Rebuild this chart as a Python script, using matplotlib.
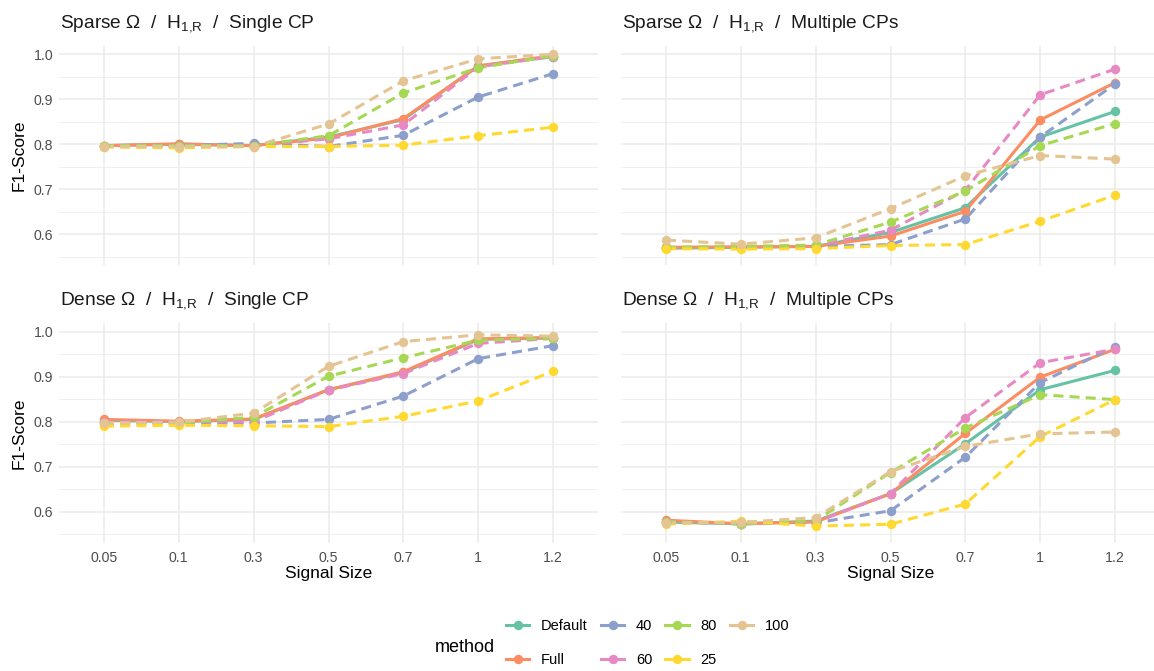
import matplotlib
matplotlib.use("Agg")
import matplotlib.pyplot as plt
from matplotlib.lines import Line2D

plt.rcParams["font.family"] = ["Liberation Sans", "DejaVu Sans"]
plt.rcParams["mathtext.fontset"] = "custom"
plt.rcParams["mathtext.rm"] = "Liberation Sans"
plt.rcParams["mathtext.default"] = "regular"

# x categories (signal size)
signal_sizes = ["0.05", "0.1", "0.3", "0.5", "0.7", "1", "1.2"]
methods = ["Default", "Full", "40", "60", "80", "25", "100"]
colors = ["#66c2a5", "#fc8d62", "#8da0cb", "#e78ac3", "#a6d854", "#ffd92f", "#e5c494"]
solid_methods = ["Default", "Full"]

# F1-scores, one list per method
sparse_single = {
    "Default": [0.797, 0.800, 0.797, 0.816, 0.855, 0.974, 0.995],
    "Full":    [0.797, 0.801, 0.797, 0.814, 0.857, 0.974, 0.997],
    "40":      [0.797, 0.797, 0.802, 0.795, 0.820, 0.905, 0.957],
    "60":      [0.797, 0.797, 0.797, 0.812, 0.843, 0.972, 0.995],
    "80":      [0.797, 0.797, 0.797, 0.819, 0.914, 0.970, 0.997],
    "25":      [0.794, 0.792, 0.795, 0.795, 0.798, 0.819, 0.838],
    "100":     [0.795, 0.795, 0.795, 0.845, 0.941, 0.990, 1.000],
}
sparse_multi = {
    "Default": [0.569, 0.571, 0.573, 0.604, 0.659, 0.816, 0.873],
    "Full":    [0.571, 0.572, 0.573, 0.596, 0.651, 0.854, 0.937],
    "40":      [0.570, 0.571, 0.573, 0.577, 0.634, 0.816, 0.934],
    "60":      [0.570, 0.571, 0.574, 0.609, 0.698, 0.910, 0.967],
    "80":      [0.571, 0.573, 0.576, 0.627, 0.696, 0.797, 0.846],
    "25":      [0.568, 0.567, 0.568, 0.575, 0.577, 0.629, 0.687],
    "100":     [0.587, 0.578, 0.592, 0.657, 0.730, 0.775, 0.767],
}
dense_single = {
    "Default": [0.803, 0.800, 0.805, 0.871, 0.909, 0.983, 0.986],
    "Full":    [0.805, 0.801, 0.806, 0.871, 0.911, 0.984, 0.987],
    "40":      [0.797, 0.797, 0.797, 0.805, 0.857, 0.940, 0.969],
    "60":      [0.800, 0.800, 0.800, 0.870, 0.907, 0.974, 0.985],
    "80":      [0.797, 0.797, 0.810, 0.901, 0.942, 0.981, 0.985],
    "25":      [0.790, 0.792, 0.791, 0.789, 0.812, 0.846, 0.912],
    "100":     [0.797, 0.799, 0.819, 0.923, 0.978, 0.993, 0.990],
}
dense_multi = {
    "Default": [0.577, 0.573, 0.579, 0.640, 0.751, 0.871, 0.914],
    "Full":    [0.581, 0.573, 0.577, 0.640, 0.774, 0.899, 0.961],
    "40":      [0.577, 0.573, 0.575, 0.602, 0.721, 0.887, 0.967],
    "60":      [0.578, 0.573, 0.577, 0.640, 0.809, 0.931, 0.961],
    "80":      [0.578, 0.573, 0.580, 0.687, 0.786, 0.860, 0.849],
    "25":      [0.572, 0.579, 0.568, 0.572, 0.617, 0.767, 0.849],
    "100":     [0.575, 0.576, 0.587, 0.689, 0.745, 0.773, 0.777],
}

panel_titles = [
    "Sparse Ω  /  H$_{1{,}R}$  /  Single CP",
    "Sparse Ω  /  H$_{1{,}R}$  /  Multiple CPs",
    "Dense Ω  /  H$_{1{,}R}$  /  Single CP",
    "Dense Ω  /  H$_{1{,}R}$  /  Multiple CPs",
]
panel_data = [sparse_single, sparse_multi, dense_single, dense_multi]

W, H = 1154, 671
fig = plt.figure(figsize=(W / 100, H / 100), dpi=100)

# panel boxes in pixels: (left, top, width, height)
boxes = [(59, 45.5, 539, 219.8), (621, 45.5, 539, 219.8),
         (59, 322.9, 539, 219.8), (621, 322.9, 539, 219.8)]

grid_major = "#ebebeb"
xpos = list(range(len(signal_sizes)))

for i, (box, data, title) in enumerate(zip(boxes, panel_data, panel_titles)):
    l, t, w, h = box
    ax = fig.add_axes([l / W, 1 - (t + h) / H, w / W, h / H])
    ax.set_xlim(-0.6, len(signal_sizes) - 1 + 0.6)
    ax.set_ylim(0.531, 1.0195)
    ax.set_yticks([0.6, 0.7, 0.8, 0.9, 1.0])
    ax.set_yticks([0.55, 0.65, 0.75, 0.85, 0.95], minor=True)
    ax.set_xticks(xpos)
    ax.grid(True, which="major", color=grid_major, linewidth=1.1)
    ax.grid(True, which="minor", axis="y", color=grid_major, linewidth=0.55)
    ax.set_axisbelow(True)
    for s in ax.spines.values():
        s.set_visible(False)
    ax.tick_params(which="both", length=0, labelsize=10.2, labelcolor="#4d4d4d")
    ax.tick_params(axis="y", pad=4)
    ax.tick_params(axis="x", pad=6)

    if i % 2 == 0:
        ax.set_yticklabels(["0.6", "0.7", "0.8", "0.9", "1.0"])
        ax.set_ylabel("F1-Score", fontsize=12.5, color="black", labelpad=5)
    else:
        ax.set_yticklabels([])
    if i >= 2:
        ax.set_xticklabels(signal_sizes)
        ax.set_xlabel("Signal Size", fontsize=12.5, color="black", labelpad=1)
    else:
        ax.set_xticklabels([])

    # lines first, then points on top (like geom_line + geom_point)
    for m, c in zip(methods, colors):
        ls = "-" if m in solid_methods else (0, (3.3, 2))
        ax.plot(xpos, data[m], color=c, linewidth=2.2, linestyle=ls,
                solid_capstyle="butt", zorder=2)
    for m, c in zip(methods, colors):
        ax.plot(xpos, data[m], linestyle="none", marker="o", markersize=6.8,
                color=c, markeredgewidth=0, zorder=3)

    ax.text(0.001, 1 + 22 / h, title, transform=ax.transAxes, ha="left",
            va="center", fontsize=13.8, color="#1a1a1a")

# legend at the bottom
handles = [Line2D([0], [0], color=c, linewidth=2.2, marker="o", markersize=6.8,
                  markeredgewidth=0) for c in colors]
fig.text(435 / W, 1 - 647 / H, "method", fontsize=13, ha="left", va="center")
fig.legend(handles, methods, loc="upper left",
           bbox_to_anchor=(506 / W, 1 - 619 / H), ncol=4, frameon=False,
           fontsize=10.5, handlelength=1.6, handletextpad=0.8,
           columnspacing=0.9, labelspacing=1.35, borderpad=0, borderaxespad=0)

fig.savefig("out.png", dpi=100)
